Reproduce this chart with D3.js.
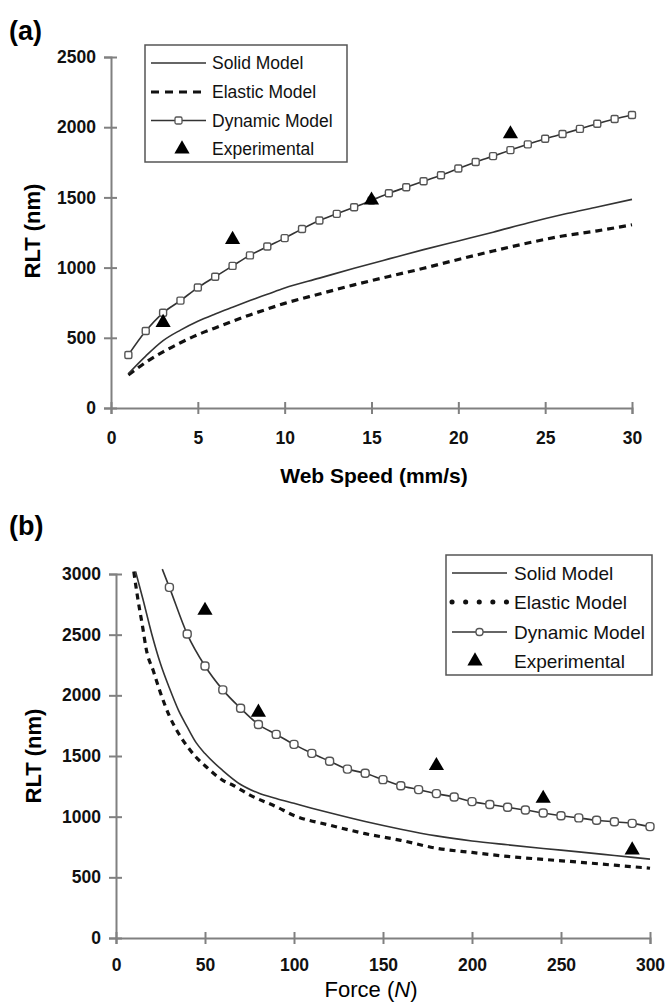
<!DOCTYPE html>
<meta charset="utf-8">

<style type="text/css">
  body { margin: 0; background: #fff; }
  svg { display: block; }
  .axis path, .axis line { stroke: #808080; stroke-width: 2px; }
  .axis text { font-family: "Liberation Sans", Arial, sans-serif; font-weight: bold; font-size: 17.5px; fill: #111; }
  .legend text { font-family: "Liberation Sans", Arial, sans-serif; fill: #111; }
</style>

<body>
</body>

<script src="https://d3js.org/d3.v7.min.js"></script>

<script>
// ---------- data ----------
// (a) RLT vs web speed
var speedDyn = [1,2,3,4,5,6,7,8,9,10,11,12,13,14,15,16,17,18,19,20,21,22,23,24,25,26,27,28,29,30];
var rltDynA  = [378,548,678,765,858,935,1012,1087,1150,1210,1275,1335,1383,1430,1478,1530,1572,1615,1658,1706,1752,1794,1837,1878,1918,1952,1988,2025,2058,2087];
var speedModel = [1,2,3,4,5,6,7,8,9,10,12,14,16,18,20,22,24,26,28,30];
var rltSolidA  = [245,370,480,555,618,670,718,765,810,855,925,995,1062,1128,1190,1252,1318,1378,1432,1486];
var rltElasticA = [235,325,400,465,522,570,618,663,705,745,812,877,937,995,1058,1118,1175,1225,1262,1305];
var speedExp = [3,7,15,23];
var rltExpA  = [608,1200,1480,1952];
var speedTicks = [0,5,10,15,20,25,30];
var rltTicksA  = [0,500,1000,1500,2000,2500];

// (b) RLT vs force
var forceDyn = [26,30,40,50,60,70,80,90,100,110,120,130,140,150,160,170,180,190,200,210,220,230,240,250,260,270,280,290,300];
var rltDynB  = [3040,2890,2505,2242,2045,1893,1760,1678,1596,1522,1457,1392,1358,1305,1255,1223,1190,1162,1124,1100,1077,1055,1030,1008,990,970,958,945,918];
var forceSolid = [11,15,20,25,30,35,40,45,50,60,70,80,90,100,110,120,140,160,180,200,220,240,260,280,300];
var rltSolidB  = [3020,2800,2510,2260,2060,1880,1740,1610,1520,1380,1265,1195,1150,1110,1070,1032,960,897,842,800,768,738,710,680,650];
var forceElastic = [10,12,15,17,21,25,30,35,40,45,50,60,65,75,90,100,120,140,160,180,200,220,240,260,280,300];
var rltElasticB  = [3020,2820,2560,2380,2200,2020,1830,1690,1580,1490,1420,1300,1265,1180,1082,1010,930,860,805,740,705,672,648,625,600,575];
var forceExp = [50,80,180,240,290];
var rltExpB  = [2700,1860,1420,1150,725];
var forceTicks = [0,50,100,150,200,250,300];
var rltTicksB  = [0,500,1000,1500,2000,2500,3000];

var legendNames = ["Solid Model", "Elastic Model", "Dynamic Model", "Experimental"];

// ---------- svg ----------
var svg = d3.select("body").append("svg")
    .attr("width", 667)
    .attr("height", 1003);

function pairs(xs, ys) {
  return xs.map(function(x, i) { return {x: x, y: ys[i]}; });
}

// draws one panel; o holds positions + styling for that panel
function drawPanel(o) {
  var x = d3.scaleLinear().domain(o.xDomain).range(o.xRange);
  var y = d3.scaleLinear().domain(o.yDomain).range(o.yRange);
  var g = svg.append("g");

  // axes: ticks cross the axis line
  var gx = g.append("g").attr("class", "axis")
    .attr("transform", "translate(0," + o.yRange[0] + ")")
    .call(d3.axisBottom(x).tickValues(o.xTicks).tickFormat(d3.format("d")).tickSizeOuter(0).tickSize(6));
  gx.selectAll(".tick line").attr("y1", -6).attr("y2", 6);
  gx.selectAll(".tick text").attr("y", o.xLabelY).attr("font-size", o.tickFont);

  var gy = g.append("g").attr("class", "axis")
    .attr("transform", "translate(" + o.xRange[0] + ",0)")
    .call(d3.axisLeft(y).tickValues(o.yTicks).tickFormat(d3.format("d")).tickSizeOuter(0).tickSize(7));
  gy.selectAll(".tick line").attr("x1", -7).attr("x2", 6);
  gy.selectAll(".tick text").attr("x", -15).attr("font-size", o.tickFont);

  var line = d3.line()
    .x(function(d) { return x(d.x); })
    .y(function(d) { return y(d.y); })
    .curve(d3.curveMonotoneX);

  // elastic (dashed)
  g.append("path")
    .datum(pairs(o.elasticX, o.elasticY))
    .attr("d", line)
    .attr("fill", "none")
    .attr("stroke", "#111")
    .attr("stroke-width", 3.2)
    .attr("stroke-dasharray", o.dash);

  // solid model
  g.append("path")
    .datum(pairs(o.solidX, o.solidY))
    .attr("d", line)
    .attr("fill", "none")
    .attr("stroke", "#333")
    .attr("stroke-width", 1.6);

  // dynamic model + markers
  var dyn = pairs(o.dynX, o.dynY);
  g.append("path")
    .datum(dyn)
    .attr("d", line)
    .attr("fill", "none")
    .attr("stroke", "#333")
    .attr("stroke-width", 1.6);

  g.selectAll(".mk")
    .data(dyn.slice(o.markerFrom))
    .enter().append("rect")
    .attr("x", function(d) { return x(d.x) - o.mk / 2; })
    .attr("y", function(d) { return y(d.y) - o.mk / 2; })
    .attr("width", o.mk).attr("height", o.mk)
    .attr("rx", o.mkR)
    .attr("fill", "#fff")
    .attr("stroke", "#555")
    .attr("stroke-width", 1.4);

  // experimental triangles
  g.selectAll(".tri")
    .data(pairs(o.expX, o.expY))
    .enter().append("path")
    .attr("d", d3.symbol().type(d3.symbolTriangle).size(100))
    .attr("transform", function(d) { return "translate(" + x(d.x) + "," + y(d.y) + ")"; })
    .attr("fill", "#000");

  // legend
  var L = o.legend;
  var lg = svg.append("g").attr("class", "legend");
  lg.append("rect")
    .attr("x", L.x).attr("y", L.y).attr("width", L.w).attr("height", L.h)
    .attr("fill", "#fff").attr("stroke", "#555").attr("stroke-width", 1.5);

  legendNames.forEach(function(name, i) {
    var ry = L.rows[i];
    if (i == 0 || i == 2) {
      lg.append("line")
        .attr("x1", L.lx1).attr("x2", L.lx2).attr("y1", ry).attr("y2", ry)
        .attr("stroke", "#333").attr("stroke-width", 1.4);
    }
    if (i == 1) {
      lg.append("line")
        .attr("x1", L.lx1).attr("x2", L.lx2).attr("y1", ry).attr("y2", ry)
        .attr("stroke", "#111").attr("stroke-width", L.dashW)
        .attr("stroke-linecap", L.dashCap)
        .attr("stroke-dasharray", L.dash);
    }
    if (i == 2) {
      lg.append("rect")
        .attr("x", (L.lx1 + L.lx2) / 2 - 3.5).attr("y", ry - 3.5)
        .attr("width", 7).attr("height", 7).attr("rx", o.mkR)
        .attr("fill", "#fff").attr("stroke", "#555").attr("stroke-width", 1.3);
    }
    if (i == 3) {
      lg.append("path")
        .attr("d", d3.symbol().type(d3.symbolTriangle).size(100))
        .attr("transform", "translate(" + L.tri + "," + ry + ")")
        .attr("fill", "#000");
    }
    lg.append("text")
      .attr("x", L.tx).attr("y", ry)
      .attr("dy", "0.35em")
      .attr("font-size", L.font)
      .text(name);
  });
}

// panel (a)
drawPanel({
  xDomain: [0, 30], xRange: [111, 632],
  yDomain: [0, 2500], yRange: [408, 57],
  xTicks: speedTicks, yTicks: rltTicksA, tickFont: "17.5px", xLabelY: 24,
  solidX: speedModel, solidY: rltSolidA,
  elasticX: speedModel, elasticY: rltElasticA,
  dynX: speedDyn, dynY: rltDynA, markerFrom: 0,
  expX: speedExp, expY: rltExpA,
  dash: "7,5", mk: 7, mkR: 1.5,
  legend: {x: 145, y: 45, w: 202, h: 117, rows: [63, 92, 120.5, 149],
           lx1: 151, lx2: 206, tx: 212, tri: 182, font: "17.5px",
           dash: "8,6", dashW: 3, dashCap: "butt"}
});

// panel (b)
drawPanel({
  xDomain: [0, 300], xRange: [116, 650],
  yDomain: [0, 3000], yRange: [938, 574],
  xTicks: forceTicks, yTicks: rltTicksB, tickFont: "18px", xLabelY: 21,
  solidX: forceSolid, solidY: rltSolidB,
  elasticX: forceElastic, elasticY: rltElasticB,
  dynX: forceDyn, dynY: rltDynB, markerFrom: 1,
  expX: forceExp, expY: rltExpB,
  dash: "6,5", mk: 8, mkR: 3,
  legend: {x: 446, y: 555, w: 206, h: 120, rows: [573, 602, 632, 661],
           lx1: 452, lx2: 507, tx: 514, tri: 475, font: "19px",
           dash: "0.1,13.5", dashW: 5, dashCap: "round"}
});

// ---------- titles ----------
svg.append("text")
  .attr("x", 9).attr("y", 40)
  .attr("font-family", "Liberation Sans, Arial, sans-serif")
  .attr("font-weight", "bold").attr("font-size", "27px")
  .text("(a)");

svg.append("text")
  .attr("x", 9).attr("y", 535)
  .attr("font-family", "Liberation Sans, Arial, sans-serif")
  .attr("font-weight", "bold").attr("font-size", "27px")
  .text("(b)");

svg.append("text")
  .attr("transform", "translate(40,231) rotate(-90)")
  .attr("text-anchor", "middle")
  .attr("font-family", "Liberation Sans, Arial, sans-serif")
  .attr("font-weight", "bold").attr("font-size", "22px")
  .text("RLT (nm)");

svg.append("text")
  .attr("transform", "translate(41,756) rotate(-90)")
  .attr("text-anchor", "middle")
  .attr("font-family", "Liberation Sans, Arial, sans-serif")
  .attr("font-weight", "bold").attr("font-size", "22px")
  .text("RLT (nm)");

svg.append("text")
  .attr("x", 374).attr("y", 483)
  .attr("text-anchor", "middle")
  .attr("font-family", "Liberation Sans, Arial, sans-serif")
  .attr("font-weight", "bold").attr("font-size", "21px")
  .text("Web Speed (mm/s)");

var forceTitle = svg.append("text")
  .attr("x", 371).attr("y", 997)
  .attr("text-anchor", "middle")
  .attr("font-family", "Liberation Sans, Arial, sans-serif")
  .attr("font-size", "22px");
forceTitle.append("tspan").text("Force (");
forceTitle.append("tspan").attr("font-style", "italic").text("N");
forceTitle.append("tspan").text(")");
</script>
